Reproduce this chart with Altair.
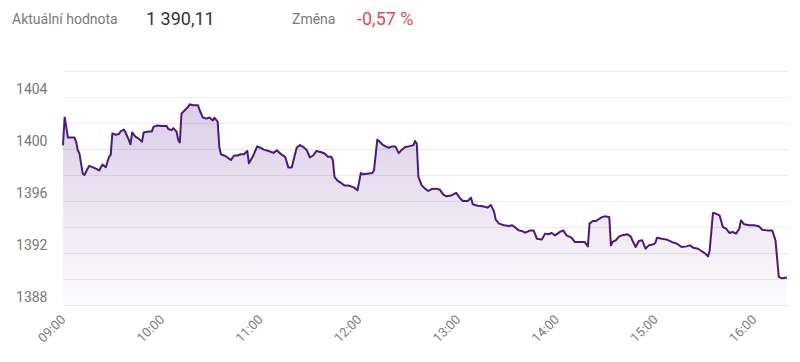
import altair as alt
import pandas as pd

times = [
    "09:00", "09:01", "09:02", "09:03", "09:07", "09:08", "09:09", "09:10", "09:12", "09:13",
    "09:15", "09:16", "09:19", "09:22", "09:23", "09:24", "09:26", "09:27", "09:28", "09:29",
    "09:30", "09:32", "09:34", "09:35", "09:37", "09:38", "09:40", "09:41", "09:42", "09:44",
    "09:46", "09:48", "09:49", "09:52", "09:54", "09:55", "09:57", "10:00", "10:03", "10:04",
    "10:06", "10:07", "10:09", "10:10", "10:11", "10:12", "10:14", "10:16", "10:17", "10:19",
    "10:22", "10:23", "10:25", "10:27", "10:29", "10:31", "10:32", "10:34", "10:35", "10:36",
    "10:38", "10:40", "10:42", "10:44", "10:46", "10:48", "10:50", "10:52", "10:53", "10:55",
    "10:56", "10:58", "11:00", "11:02", "11:05", "11:08", "11:10", "11:12", "11:15", "11:17",
    "11:19", "11:22", "11:24", "11:26", "11:28", "11:30", "11:32", "11:34", "11:37", "11:39",
    "11:41", "11:43", "11:44", "11:45", "11:47", "11:49", "11:51", "11:53", "11:55", "11:57",
    "11:59", "12:01", "12:02", "12:05", "12:08", "12:09", "12:11", "12:12", "12:14", "12:16",
    "12:18", "12:20", "12:22", "12:24", "12:26", "12:28", "12:30", "12:33", "12:34", "12:35",
    "12:36", "12:38", "12:40", "12:42", "12:44", "12:47", "12:49", "12:51", "12:53", "12:56",
    "12:59", "13:01", "13:03", "13:06", "13:08", "13:09", "13:12", "13:15", "13:18", "13:20",
    "13:22", "13:23", "13:25", "13:28", "13:31", "13:33", "13:35", "13:37", "13:39", "13:41",
    "13:43", "13:44", "13:46", "13:48", "13:51", "13:53", "13:55", "13:57", "13:59", "14:02",
    "14:04", "14:06", "14:09", "14:11", "14:14", "14:17", "14:19", "14:20", "14:22", "14:24",
    "14:27", "14:29", "14:32", "14:33", "14:34", "14:36", "14:38", "14:40", "14:43", "14:45",
    "14:46", "14:48", "14:50", "14:52", "14:54", "14:56", "14:59", "15:00", "15:01", "15:04",
    "15:07", "15:10", "15:13", "15:16", "15:19", "15:21", "15:23", "15:26", "15:28", "15:30",
    "15:32", "15:33", "15:35", "15:36", "15:39", "15:41", "15:43", "15:45", "15:47", "15:49",
    "15:51", "15:52", "15:54", "15:57", "16:00", "16:03", "16:05", "16:08", "16:11", "16:13",
    "16:15", "16:17", "16:20",
]

values = [
    1400.29, 1402.42, 1401.70, 1400.88, 1400.88, 1400.55, 1399.90, 1399.65, 1398.10, 1398.00,
    1398.50, 1398.70, 1398.55, 1398.35, 1398.60, 1398.80, 1398.60, 1399.00, 1399.40, 1399.55,
    1401.20, 1401.10, 1401.15, 1401.35, 1401.50, 1401.27, 1400.70, 1400.36, 1401.27, 1400.95,
    1400.80, 1400.55, 1401.27, 1401.35, 1401.35, 1401.70, 1401.80, 1401.77, 1401.77, 1401.54,
    1401.45, 1401.60, 1401.35, 1400.70, 1400.50, 1402.72, 1402.98, 1403.23, 1403.44, 1403.37,
    1403.37, 1403.00, 1402.42, 1402.34, 1402.42, 1402.20, 1402.40, 1402.10, 1400.16, 1399.60,
    1399.50, 1399.35, 1399.15, 1399.50, 1399.50, 1399.60, 1399.60, 1399.85, 1398.90, 1399.35,
    1399.60, 1400.20, 1400.10, 1399.95, 1399.85, 1399.70, 1399.90, 1399.65, 1399.40, 1398.57,
    1398.57, 1400.10, 1400.30, 1400.16, 1399.95, 1399.35, 1399.50, 1399.85, 1399.75, 1399.65,
    1399.40, 1399.40, 1399.15, 1397.85, 1397.54, 1397.39, 1397.20, 1397.20, 1397.13, 1397.03,
    1396.82, 1398.15, 1398.05, 1398.10, 1398.15, 1398.36, 1400.72, 1400.62, 1400.36, 1400.20,
    1400.10, 1400.20, 1400.20, 1399.68, 1399.95, 1400.16, 1400.20, 1400.30, 1400.62, 1400.40,
    1397.85, 1397.20, 1396.95, 1396.77, 1396.92, 1396.95, 1396.87, 1396.51, 1396.36, 1396.43,
    1396.62, 1396.26, 1396.00, 1396.00, 1396.26, 1395.75, 1395.64, 1395.59, 1395.49, 1395.70,
    1395.16, 1394.57, 1394.26, 1394.13, 1394.08, 1394.13, 1393.95, 1393.74, 1393.69, 1393.56,
    1393.69, 1393.74, 1393.74, 1393.10, 1393.03, 1393.49, 1393.44, 1393.54, 1393.36, 1393.62,
    1393.74, 1393.36, 1393.18, 1392.85, 1392.85, 1392.85, 1392.51, 1394.26, 1394.46, 1394.46,
    1394.72, 1394.82, 1394.77, 1392.59, 1392.85, 1392.98, 1393.28, 1393.36, 1393.44, 1393.28,
    1392.98, 1392.46, 1392.92, 1392.98, 1392.33, 1392.59, 1392.67, 1392.77, 1393.18, 1393.10,
    1393.03, 1392.85, 1392.72, 1392.46, 1392.51, 1392.59, 1392.41, 1392.33, 1392.15, 1391.99,
    1391.74, 1392.20, 1395.07, 1395.07, 1394.90, 1394.00, 1393.87, 1393.54, 1393.62, 1393.49,
    1393.87, 1394.51, 1394.21, 1394.13, 1394.13, 1394.05, 1393.79, 1393.74, 1393.74, 1392.98,
    1390.17, 1390.05, 1390.11,
]

tick_hours = [9, 10, 11, 12, 13, 14, 15, 16]
y_grid_values = [1388, 1390, 1392, 1394, 1396, 1398, 1400, 1402, 1404, 1406]

header_labels = ["Aktuální hodnota", "1 390,11", "Změna", "-0,57 %"]

df = pd.DataFrame({
    "time": ["2024-01-01T" + t for t in times],
    "value": values,
})

FONT = "Roboto"
x_domain = [
    alt.DateTime(year=2024, month=1, date=1, hours=9, minutes=0),
    alt.DateTime(year=2024, month=1, date=1, hours=16, minutes=20),
]
x_ticks = [alt.DateTime(year=2024, month=1, date=1, hours=h, minutes=0) for h in tick_hours]

x_axis = alt.Axis(
    title=None,
    values=x_ticks,
    format="%H:%M",
    labelAngle=-45,
    labelAlign="right",
    labelBaseline="middle",
    labelPadding=12,
    labelFontSize=13,
    labelColor="#7d7d7d",
    labelFont=FONT,
    ticks=False,
    grid=False,
    domain=True,
    domainColor="#e3e3ec",
    labelOverlap=False,
)
y_axis = alt.Axis(
    title=None,
    values=y_grid_values,
    labelExpr="datum.value % 4 == 0 ? datum.label : ''",
    labelFontSize=14,
    labelColor="#777777",
    labelFont=FONT,
    labelPadding=16,
    labelOffset=-8,
    labelBaseline="middle",
    ticks=False,
    domain=False,
    grid=True,
    gridColor="#ebebeb",
    gridWidth=1,
    format="d",
)

x_enc = alt.X("time:T", scale=alt.Scale(domain=x_domain), axis=x_axis)
y_enc = alt.Y("value:Q", scale=alt.Scale(domain=[1388, 1406], zero=False, nice=False), axis=y_axis)

base = alt.Chart(df)

area = base.mark_area(
    line=False,
    strokeWidth=0,
    color=alt.Gradient(
        gradient="linear",
        stops=[
            alt.GradientStop(color="rgba(110,60,160,0.25)", offset=0),
            alt.GradientStop(color="rgba(110,60,160,0.02)", offset=1),
        ],
        x1=1, x2=1, y1=0, y2=1,
    ),
).encode(x=x_enc, y=y_enc, y2=alt.datum(1388))

line = base.mark_line(color="#4b1a7c", strokeWidth=2, strokeJoin="round").encode(
    x=x_enc, y=y_enc
)

hdr = pd.DataFrame({"label": header_labels})

def header(i, dx, size, color):
    return alt.Chart(hdr).transform_filter(
        alt.datum.label == header_labels[i]
    ).mark_text(
        align="left", baseline="middle", font=FONT, fontSize=size, color=color
    ).encode(
        text="label:N",
        x=alt.value(dx),
        y=alt.value(-51),
    )

h1 = header(0, -51, 14, "#7a7a7a")
h2 = header(1, 83, 18, "#333333")
h3 = header(2, 229, 14, "#7a7a7a")
h4 = header(3, 294, 18, "#e8464f")

chart = (
    alt.layer(area, line, h1, h2, h3, h4)
    .properties(
        width=724,
        height=234,
        background="white",
        autosize=alt.AutoSizeParams(type="none"),
        padding={"left": 55, "top": 63, "right": 5, "bottom": 40},
    )
    .configure(font=FONT)
    .configure_view(strokeWidth=0, stroke="transparent")
    .configure_axisY(domain=False, ticks=False)
    .configure_axisX(grid=False)
)

chart.save("out.html", embed_options={"renderer": "svg", "actions": False})
